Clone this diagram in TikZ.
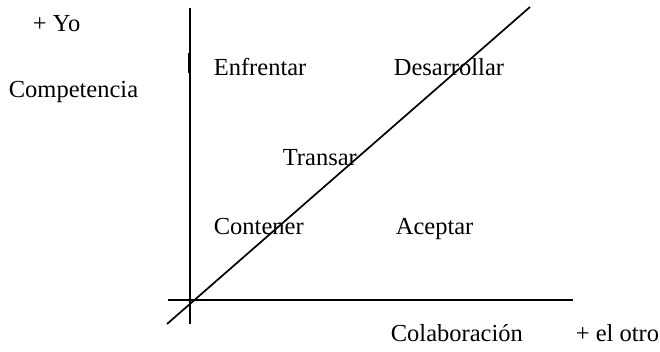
\documentclass[tikz,border=0pt]{standalone}
\usepackage{fontspec}
\setmainfont{Liberation Serif}
\usepackage{tikz}

\begin{document}
\begin{tikzpicture}[x=1pt, y=1pt, line width=1.7pt,
	lbl/.style={anchor=base west, inner sep=0pt, font=\fontsize{24.5}{29}\selectfont}]
			\useasboundingbox (0,0) rectangle (660,352);
			
			\coordinate (vtop) at (190,344);
			\coordinate (vbot) at (190,28);
			\coordinate (hleft) at (168,52);
			\coordinate (hright) at (573,52);
			\coordinate (dlow) at (167,28);
			\coordinate (dhigh) at (530,345);
			\coordinate (mtop) at (189.5,299);
			\coordinate (mbot) at (189.5,279);
			
			\draw (vtop) -- (vbot);
			\draw (hleft) -- (hright);
			\draw (dlow) -- (dhigh);
			\draw[line width=3pt] (mtop) -- (mbot);
			
			\node[lbl] (yo) at (32,320) {+ Yo};
			\node[lbl] (comp) at (8,254) {Competencia};
			\node[lbl] (enf) at (213,276) {Enfrentar};
			\node[lbl] (des) at (393,276) {Desarrollar};
			\node[lbl] (tra) at (282,186) {Transar};
			\node[lbl] (con) at (213,117) {Contener};
			\node[lbl] (ace) at (395,117) {Aceptar};
			\node[lbl] (col) at (390,10) {Colaboración};
			\node[lbl] (otro) at (575,10) {+ el otro};
		\end{tikzpicture}
\end{document}
